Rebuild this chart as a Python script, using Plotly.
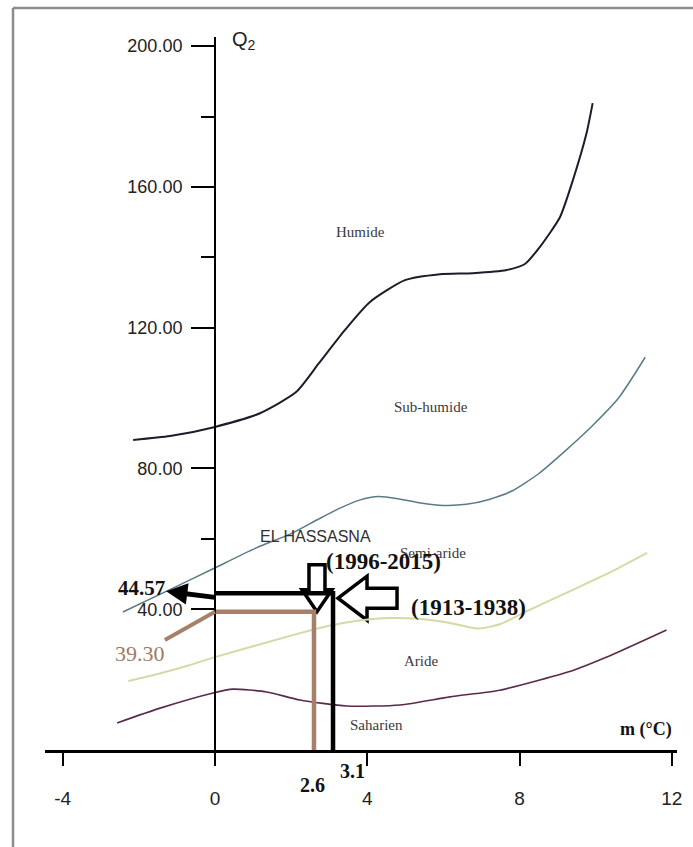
import plotly.graph_objects as go

# Emberger climagram: boundary curves between bioclimatic stages (m in °C, Q2)
humide_m = [-2.15, -1.18, 0.0, 1.18, 2.13, 2.73, 3.41, 4.07, 4.99, 5.91, 6.77, 7.66, 8.14, 8.53, 9.06, 9.40, 9.76, 9.92]
humide_q = [88.1, 89.2, 91.8, 95.7, 101.7, 109.9, 119.3, 127.3, 133.5, 135.2, 135.5, 136.4, 138.1, 142.9, 151.4, 161.9, 175.3, 183.8]

subhumide_m = [-2.42, -1.2, -0.05, 1.1, 2.0, 2.7, 3.3, 3.8, 4.3, 4.8, 5.4, 6.0, 6.6, 7.2, 7.8, 8.5, 9.2, 9.9, 10.6, 11.3]
subhumide_q = [39.2, 45.5, 51.5, 57.5, 61.5, 65.5, 68.8, 71.0, 72.0, 71.4, 70.2, 69.5, 69.8, 71.2, 73.6, 78.5, 85.0, 92.0, 100.0, 111.6]

semiaride_m = [-2.28, -1.5, -0.7, 0.0, 1.0, 2.23, 3.0, 3.8, 4.6, 5.4, 6.17, 6.9, 7.5, 8.2, 8.9, 9.4, 10.4, 11.35]
semiaride_q = [19.6, 21.6, 24.0, 26.4, 29.5, 33.2, 35.3, 36.8, 37.5, 37.2, 36.1, 34.5, 35.8, 39.5, 43.0, 45.5, 50.6, 56.0]

aride_m = [-2.57, -1.44, -0.05, 0.47, 1.36, 2.23, 3.46, 4.86, 6.17, 7.48, 8.53, 9.4, 10.29, 11.86]
aride_q = [7.7, 11.9, 16.2, 17.3, 16.5, 14.2, 12.5, 12.8, 15.1, 17.0, 19.9, 22.6, 26.4, 34.1]

# El Hassasna station for the two periods
period_old, m_old, q_old = "(1913-1938)", 3.1, 44.57
period_new, m_new, q_new = "(1996-2015)", 2.6, 39.30

x_ticks = [-4, 0, 4, 8, 12]
x_tick_text = ["-4", "0", "4", "8", "12"]
y_ticks = [40, 80, 120, 160, 200]
y_tick_text = ["40.00", "80.00", "120.00", "160.00", "200.00"]
y_minor_ticks = [60, 140, 180]

stage_names = ["Humide", "Sub-humide", "Semi-aride", "Aride", "Saharien"]
stage_m = [3.83, 5.67, 5.72, 5.41, 4.25]
stage_q = [147.2, 97.4, 56.0, 25.3, 7.1]

X_RANGE = [-4.465, 12.135]
Y_RANGE = [0, 202.6]

SANS = "Liberation Sans, Arial, sans-serif"
SERIF = "Liberation Serif, Times New Roman, serif"
BROWN = "#a7806a"

fig = go.Figure()

curves = [
    (humide_m, humide_q, "#1c1c2a", 2.0),
    (subhumide_m, subhumide_q, "#5b7a88", 1.5),
    (semiaride_m, semiaride_q, "#d6d9a6", 2.0),
    (aride_m, aride_q, "#5a2a4a", 1.6),
]
for m, q, color, w in curves:
    fig.add_trace(go.Scatter(x=m, y=q, mode="lines",
                             line=dict(color=color, width=w, shape="spline", smoothing=0.6),
                             hoverinfo="skip"))

# station reading lines: axis -> point -> m axis
fig.add_trace(go.Scatter(x=[0, m_new, m_new], y=[q_new, q_new, 0], mode="lines",
                         line=dict(color=BROWN, width=4.5), hoverinfo="skip"))
fig.add_trace(go.Scatter(x=[0, m_old, m_old], y=[q_old, q_old, 0], mode="lines",
                         line=dict(color="black", width=4.5), hoverinfo="skip"))


def hollow_arrow(mx, qy, pts):
    path = "M " + " L ".join(f"{px},{py}" for px, py in pts) + " Z"
    return dict(type="path", xref="x", yref="y", xsizemode="pixel", ysizemode="pixel",
                xanchor=mx, yanchor=qy, path=path,
                line=dict(color="black", width=3.5), fillcolor="white", layer="below")


# downward hollow arrow onto the recent point, leftward hollow arrow onto the old point
down_pts = [(3, 0), (-12, 22), (-5, 22), (-5, 47), (11, 47), (11, 22), (18, 22)]
left_pts = [(5, -5), (34, 17), (34, 5), (64, 5), (64, -15), (34, -15), (34, -27)]
fig.add_shape(hollow_arrow(m_new, q_new, down_pts))
fig.add_shape(hollow_arrow(m_old, q_old, left_pts))

# frame around the figure
frame_x0, frame_top, frame_bottom, frame_x1 = -0.0506, 1.0407, -0.14, 1.03
fig.add_shape(type="line", xref="paper", yref="paper", x0=frame_x0, x1=frame_x0,
              y0=frame_bottom, y1=frame_top, line=dict(color="#8c8c8c", width=2.5))
fig.add_shape(type="line", xref="paper", yref="paper", x0=frame_x0, x1=frame_x1,
              y0=frame_top, y1=frame_top, line=dict(color="#8c8c8c", width=2.5))

annotations = []
for name, m, q in zip(stage_names, stage_m, stage_q):
    annotations.append(dict(x=m, y=q, text=name, showarrow=False,
                            font=dict(family=SERIF, size=15, color="#3a3a3a")))

annotations += [
    dict(x=2.65, y=60.8, text="EL HASSASNA", showarrow=False,
         font=dict(family=SANS, size=16, color="#303030")),
    dict(x=4.42, y=53.7, text=f"<b>{period_new}</b>", showarrow=False,
         font=dict(family=SERIF, size=23, color="#111111")),
    dict(x=6.67, y=40.6, text=f"<b>{period_old}</b>", showarrow=False,
         font=dict(family=SERIF, size=23, color="#111111")),
    dict(x=11.31, y=5.7, text="<b>m (°C)</b>", showarrow=False,
         font=dict(family=SERIF, size=18, color="#111111")),
    dict(x=m_new - 0.05, y=-0.049, yref="paper", yanchor="middle",
         text=f"<b>{m_new}</b>", showarrow=False,
         font=dict(family=SERIF, size=20, color="#111111")),
    dict(x=m_old + 0.5, y=-0.0295, yref="paper", yanchor="middle",
         text=f"<b>{m_old}</b>", showarrow=False,
         font=dict(family=SERIF, size=20, color="#111111")),
    dict(x=0.4, y=201.7, text="Q<sub>2</sub>", showarrow=False, xanchor="left",
         font=dict(family=SANS, size=20, color="#222222")),
    # Q2 labels with leader arrows to the axis
    dict(x=0, y=q_old - 1.2, ax=-1.94, ay=46.0, axref="x", ayref="y",
         text=f"<b>{q_old:.2f}</b>", showarrow=True, arrowside="start",
         startarrowhead=2, startarrowsize=0.85, arrowwidth=5, arrowcolor="black",
         font=dict(family=SERIF, size=21, color="#111111")),
    dict(x=0, y=q_new, ax=-1.97, ay=27.3, axref="x", ayref="y",
         text=f"{q_new:.2f}", showarrow=True, arrowhead=0, arrowwidth=4,
         arrowcolor=BROWN, standoff=0,
         font=dict(family=SERIF, size=22, color="#a07a64")),
]

fig.update_layout(
    width=693, height=847,
    margin=dict(l=45, r=16, t=37, b=97),
    paper_bgcolor="white", plot_bgcolor="white",
    showlegend=False,
    annotations=annotations,
    xaxis=dict(range=X_RANGE, tickmode="array", tickvals=x_ticks, ticktext=x_tick_text,
               ticks="outside", ticklen=13, tickwidth=2, tickcolor="black",
               showline=True, linewidth=2.5, linecolor="black",
               showgrid=False, zeroline=False, automargin=False,
               ticklabelstandoff=16,
               tickfont=dict(family=SANS, size=19, color="#222222")),
    yaxis=dict(range=Y_RANGE, tickmode="array", tickvals=y_ticks, ticktext=y_tick_text,
               anchor="free", position=0.269,
               ticks="outside", ticklen=23, tickwidth=2, tickcolor="black",
               showline=True, linewidth=2, linecolor="black",
               showgrid=False, zeroline=False, automargin=False,
               ticklabelstandoff=5,
               minor=dict(tickmode="array", tickvals=y_minor_ticks, ticks="outside",
                          ticklen=13, tickwidth=2, tickcolor="black", showgrid=False),
               tickfont=dict(family=SANS, size=18, color="#222222")),
)

fig.write_html("out.html")
